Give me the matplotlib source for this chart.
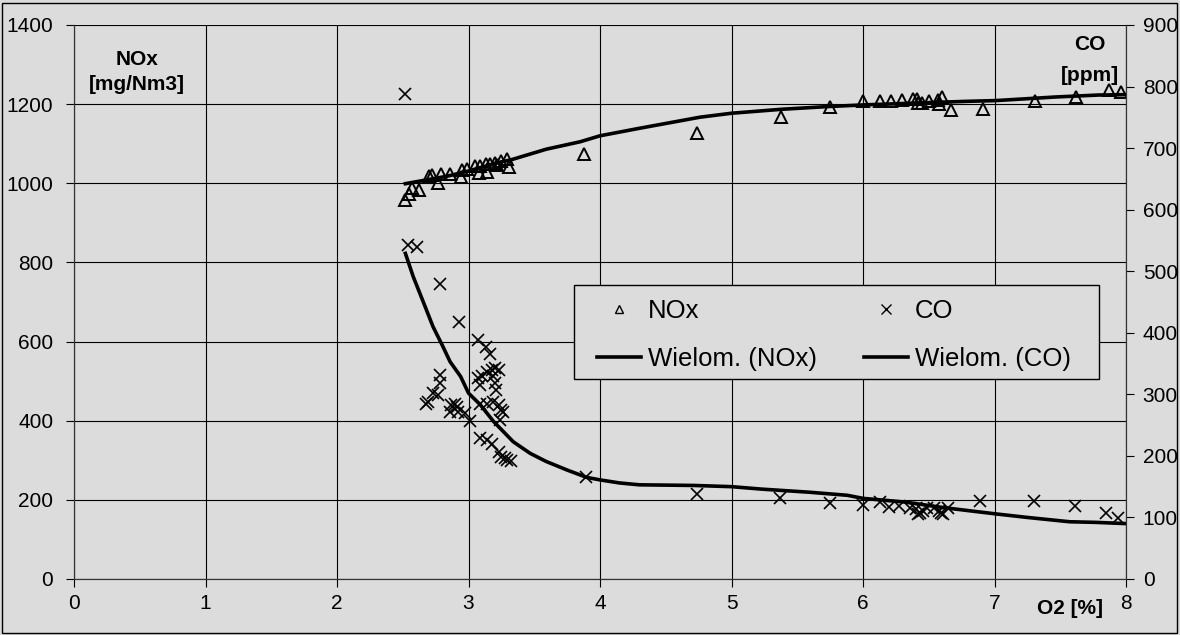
import matplotlib
matplotlib.use("Agg")
import matplotlib.pyplot as plt
from matplotlib.lines import Line2D
from matplotlib.patches import Rectangle

plt.rcParams['font.family'] = ['Liberation Sans', 'DejaVu Sans']

# NOx measurements (left axis, mg/Nm3)
nox_o2 = [2.52, 2.55, 2.57, 2.62, 2.70, 2.72, 2.77, 2.79, 2.86, 2.94, 2.95, 2.99, 3.05,
          3.08, 3.09, 3.13, 3.14, 3.16, 3.20, 3.22, 3.25, 3.29, 3.31,
          3.88, 4.74, 5.38, 5.75, 6.00, 6.13, 6.21, 6.30, 6.38, 6.41, 6.42, 6.45, 6.50,
          6.57, 6.60, 6.58, 6.67, 6.91, 7.31, 7.62, 7.87, 7.96]
nox_val = [958, 972, 988, 983, 1019, 1021, 1000, 1023, 1024, 1015, 1033, 1037, 1043,
           1025, 1044, 1048, 1028, 1050, 1052, 1045, 1056, 1062, 1042,
           1074, 1126, 1167, 1192, 1209, 1209, 1209, 1211, 1212, 1214, 1203, 1203, 1207,
           1210, 1217, 1201, 1185, 1187, 1209, 1218, 1235, 1230]

# CO measurements (right axis, ppm)
co_o2 = [2.52, 2.54, 2.61, 2.78, 2.93, 3.07, 3.13, 3.16, 2.78, 2.78, 2.73, 2.77, 2.69, 2.68,
         2.87, 2.90, 2.91, 2.92, 2.86, 2.97, 3.01, 3.07, 3.10, 3.09, 3.14, 3.18, 3.20,
         3.23, 3.19, 3.20, 3.21, 3.09, 3.14, 3.19, 3.23, 3.25, 3.26, 3.24, 3.09, 3.14,
         3.18, 3.23, 3.25, 3.29, 3.32, 3.28,
         3.89, 4.74, 5.37, 5.75, 6.00, 6.13, 6.20, 6.27, 6.36, 6.40, 6.43, 6.42, 6.46,
         6.49, 6.54, 6.58, 6.61, 6.59, 6.65, 6.89, 7.30, 7.61, 7.85, 7.94]
co_val = [788, 542, 540, 479, 418, 388, 377, 365, 331, 318, 302, 299, 288, 285,
          283, 285, 280, 272, 272, 269, 256, 326, 329, 315, 337, 340, 342,
          340, 329, 318, 307, 285, 285, 288, 283, 275, 272, 258, 229, 226,
          220, 207, 199, 193, 191, 196,
          166, 138, 132, 123, 121, 125, 117, 118, 116, 114, 108, 106, 111,
          116, 116, 111, 106, 108, 116, 126, 126, 118, 108, 99]

# Polynomial trendlines
nox_fit_o2 = [2.52, 2.84, 3.00, 3.22, 3.32, 3.59, 3.85, 4.00, 4.30, 4.76, 5.00, 5.38,
              5.74, 6.00, 6.42, 6.78, 7.01, 7.46, 7.79, 8.00]
nox_fit_val = [999, 1018, 1031, 1052, 1059, 1086, 1105, 1120, 1139, 1167, 1177, 1187,
               1194, 1198, 1203, 1207, 1209, 1218, 1223, 1224]
co_fit_o2 = [2.52, 2.58, 2.66, 2.73, 2.80, 2.86, 2.94, 3.00, 3.09, 3.19, 3.34, 3.47,
             3.59, 3.75, 3.90, 4.00, 4.15, 4.30, 4.71, 5.00, 5.23, 5.59, 5.88, 6.00,
             6.32, 6.61, 7.00, 7.25, 7.57, 7.77, 8.00]
co_fit_val = [529, 491, 448, 410, 380, 353, 329, 302, 283, 256, 223, 204,
              191, 177, 165, 161, 156, 153, 152, 150, 146, 141, 136, 131,
              125, 116, 106, 100, 93, 92, 90]

x_ticks = [0, 1, 2, 3, 4, 5, 6, 7, 8]
left_ticks = [0, 200, 400, 600, 800, 1000, 1200, 1400]
right_ticks = [0, 100, 200, 300, 400, 500, 600, 700, 800, 900]

W, H = 1180, 635
bg = '#dcdcdc'
fig = plt.figure(figsize=(W / 100, H / 100), dpi=100, facecolor=bg)
ax = fig.add_axes([74 / W, 56 / H, 1052 / W, 554 / H])
ax.set_facecolor(bg)
ax2 = ax.twinx()

ax.set_xlim(0, 8)
ax.set_ylim(0, 1400)
ax2.set_ylim(0, 900)
ax.set_xticks(x_ticks)
ax.set_yticks(left_ticks)
ax2.set_yticks(right_ticks)
ax.grid(True, color='black', linewidth=0.8)
ax.set_axisbelow(True)

for a in (ax, ax2):
    for s in a.spines.values():
        s.set_linewidth(0.8)
        s.set_color('#333333')
ax.spines['top'].set_visible(False)
ax2.spines['top'].set_visible(False)

ax.tick_params(axis='x', labelsize=15, length=6, width=0.8, direction='out', pad=5)
ax.tick_params(axis='y', labelsize=15, length=6, width=0.8, direction='out', pad=9)
ax2.tick_params(axis='y', labelsize=15, length=6, width=0.8, direction='out', pad=6)

ax.plot(nox_o2, nox_val, linestyle='none', marker='^', markersize=8,
        markerfacecolor='none', markeredgecolor='black', markeredgewidth=1.4, zorder=3)
ax.plot(nox_fit_o2, nox_fit_val, color='black', linewidth=2.6, zorder=4)
ax2.plot(co_o2, co_val, linestyle='none', marker='x', markersize=9,
         markeredgecolor='black', markeredgewidth=1.2, zorder=3)
ax2.plot(co_fit_o2, co_fit_val, color='black', linewidth=2.6, zorder=4)

ax.text((137 - 74) / 1052, 1 - (72 - 25) / 554, 'NOx\n[mg/Nm3]', transform=ax.transAxes,
        ha='center', va='center', fontsize=15, fontweight='bold', linespacing=1.45)
ax.text((1090 - 74) / 1052, 1 - (60 - 25) / 554, 'CO\n[ppm]', transform=ax.transAxes,
        ha='center', va='center', fontsize=15, fontweight='bold', linespacing=1.75)
fig.text(1070 / W, 1 - 608 / H, 'O2 [%]', ha='center', va='center',
         fontsize=15, fontweight='bold')

# legend box
box = Rectangle((574 / W, 1 - 379 / H), (1099 - 574) / W, (379 - 285) / H,
                transform=fig.transFigure, facecolor=bg, edgecolor='black',
                linewidth=1.0, zorder=9)
fig.add_artist(box)

handles = [
    Line2D([], [], linestyle='none', marker='^', markersize=6, markerfacecolor='none',
           markeredgecolor='black', markeredgewidth=1.0),
    Line2D([], [], color='black', linewidth=2.6),
    Line2D([], [], linestyle='none', marker='x', markersize=7, markeredgecolor='black',
           markeredgewidth=1.0),
    Line2D([], [], color='black', linewidth=2.6),
]
labels = ['NOx', 'Wielom. (NOx)', 'CO', 'Wielom. (CO)']
leg = fig.legend(handles, labels, ncol=2, loc='upper left',
                 bbox_to_anchor=(597 / W, 1 - 299 / H),
                 fontsize=18.5, frameon=False, borderaxespad=0, borderpad=0,
                 handlelength=1.71, handletextpad=0.27, columnspacing=1.83,
                 labelspacing=0.95)
leg.set_zorder(10)

fig.add_artist(Rectangle((2 / W, 2 / H), 1175 / W, 630 / H, transform=fig.transFigure,
                         fill=False, edgecolor='black', linewidth=1.0))

fig.savefig('out.png', dpi=100, facecolor=bg)
